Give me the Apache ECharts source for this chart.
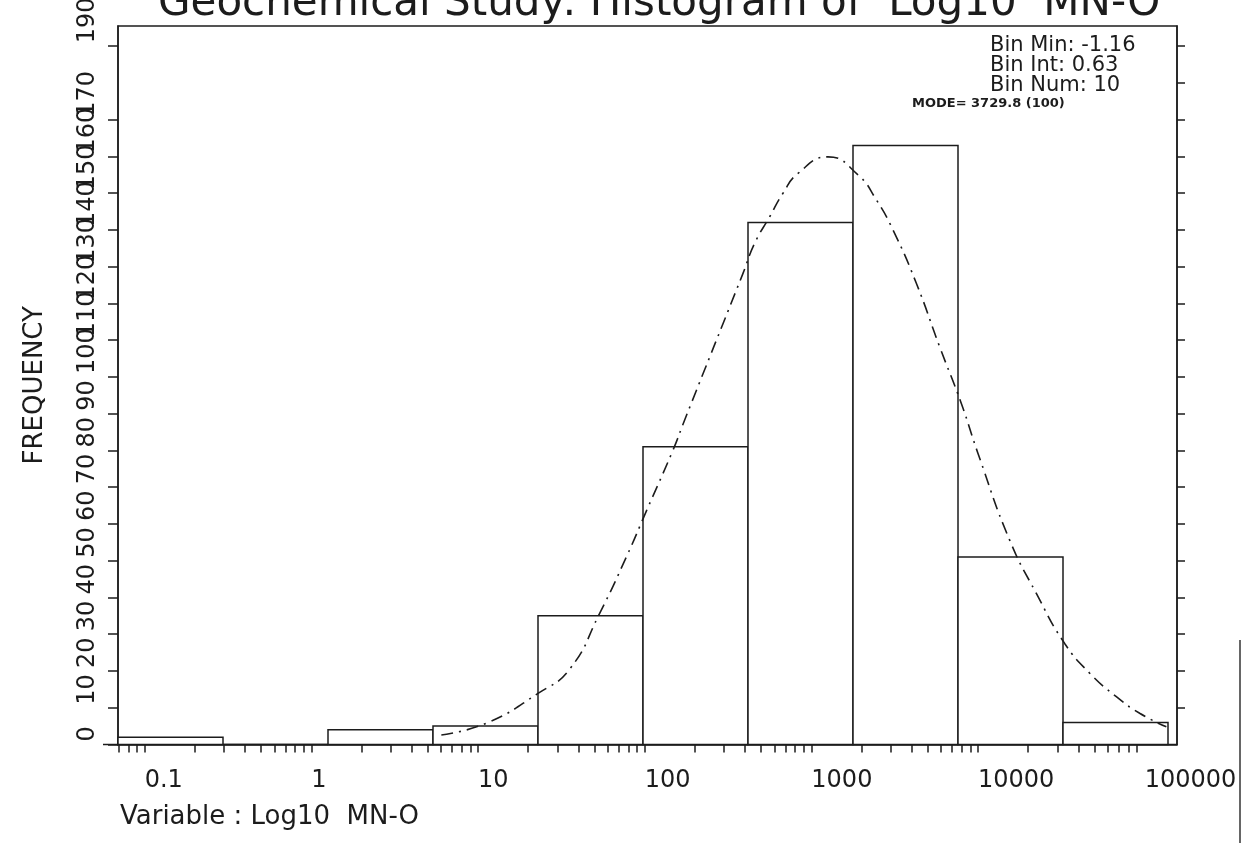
<!DOCTYPE html>
<html><head><meta charset="utf-8">
<script src="https://cdn.jsdelivr.net/npm/echarts@6/dist/echarts.min.js"></script>
<style>html,body{margin:0;padding:0;background:#fff}#c{width:1247px;height:843px}</style>
</head><body><div id="c"></div>
<script>
// ---- data ----
const titleText = 'Geochemical Study: Histogram of  Log10  MN-O';
const xAxisTitle = 'Variable : Log10  MN-O';
const yAxisTitle = 'FREQUENCY';
const infoLines = ['Bin Min: -1.16', 'Bin Int: 0.63', 'Bin Num: 10'];
const modeText = 'MODE= 3729.8 (100)';

// histogram bins (log10 units)
const binEdges = [-1.16, -0.53, 0.10, 0.73, 1.36, 1.99, 2.62, 3.25, 3.88, 4.51, 5.14];
const binCounts = [2, 0, 4, 5, 35, 81, 142, 163, 51, 6];

// fitted curve
const curveLogX = [0.78, 1.05, 1.36, 1.55, 1.73, 1.89, 2.01, 2.17, 2.24, 2.59, 2.66, 2.75, 2.83, 2.92, 3.10, 3.28, 3.39, 3.49, 3.63, 3.77, 3.90, 4.00, 4.19, 4.35, 4.52, 4.67, 4.83, 4.97, 5.13];
const curveFreq = [2.6, 5.8, 13.9, 20.5, 35.7, 51.0, 63.5, 80.1, 88.3, 128.2, 136.4, 143.6, 150.0, 155.4, 159.9, 155.0, 148.2, 140.0, 125.5, 108.2, 92.8, 79.2, 55.6, 41.1, 27.5, 19.4, 13.0, 8.5, 4.8];

// axes
const xMin = -1.16, xMax = 5.194;
const yMin = 0, yMax = 195.5;
const xTickValues = [-1, 0, 1, 2, 3, 4, 5];
const xTickLabels = ['0.1', '1', '10', '100', '1000', '10000', '100000'];
const xMinorMultipliers = [1, 2, 3, 4, 5, 6, 7, 8, 9];
const xDecades = [-2, -1, 0, 1, 2, 3, 4];
const yTickValues = [0, 10, 20, 30, 40, 50, 60, 70, 80, 90, 100, 110, 120, 130, 140, 150, 160, 170, 180, 190];

// ---- build ----
const minorTicks = [];
xDecades.forEach(d => xMinorMultipliers.forEach(m => {
  const v = Math.log10(m) + d;
  if (v >= xMin && v <= xMax) minorTicks.push(v);
}));
const ink = '#1c1c1c';
const font = 'DejaVu Sans';
const histData = binCounts.map((c, i) => [binEdges[i], binEdges[i + 1], c]);
const curveData = curveLogX.map((x, i) => [x, curveFreq[i]]);

const chart = echarts.init(document.getElementById('c'));
chart.setOption({
  animation: false,
  backgroundColor: '#fff',
  title: [
    {text: titleText, left: 158, top: -17, padding: 0,
     textStyle: {fontFamily: font, fontSize: 42, fontWeight: 'normal', color: ink}},
    {text: xAxisTitle, left: 120, top: 804, padding: 0,
     textStyle: {fontFamily: font, fontSize: 26, fontWeight: 'normal', color: ink}},
    {text: infoLines.join('\n'), left: 990, top: 36, padding: 0,
     textStyle: {fontFamily: font, fontSize: 21, lineHeight: 20, fontWeight: 'normal', color: ink}},
    {text: modeText, left: 912, top: 97, padding: 0,
     textStyle: {fontFamily: font, fontSize: 13, fontWeight: 'bold', color: ink}}
  ],
  grid: {left: 118, top: 26, right: 70, bottom: 98.5, show: true, borderColor: ink, borderWidth: 1.5,
         backgroundColor: 'transparent', containLabel: false, outerBoundsMode: 'none'},
  xAxis: {
    type: 'value', min: xMin, max: xMax,
    splitLine: {show: false},
    axisLine: {show: true, onZero: false, lineStyle: {color: ink, width: 1.5}},
    axisTick: {show: true, customValues: minorTicks, length: 8, inside: false, lineStyle: {color: ink, width: 1.5}},
    axisLabel: {show: true, customValues: xTickValues, align: 'left', margin: 24,
      fontFamily: font, fontSize: 24, color: ink,
      formatter: v => { const i = xTickValues.findIndex(t => Math.abs(t - v) < 1e-9); return i >= 0 ? xTickLabels[i] : ''; }}
  },
  yAxis: [
    {type: 'value', min: yMin, max: yMax, position: 'left',
     name: yAxisTitle, nameLocation: 'middle', nameRotate: 90, nameGap: 70,
     nameTextStyle: {fontFamily: font, fontSize: 26, color: ink},
     splitLine: {show: false},
     axisLine: {show: true, onZero: false, lineStyle: {color: ink, width: 1.5}},
     axisTick: {show: true, customValues: yTickValues, length: 10, inside: false, lineStyle: {color: ink, width: 1.5}},
     axisLabel: {show: true, customValues: yTickValues, rotate: 90, align: 'left', verticalAlign: 'bottom',
       showMaxLabel: true, showMinLabel: true,
       margin: 18, fontFamily: font, fontSize: 24, color: ink, padding: [0, 0, 0, 3]}},
    {type: 'value', min: yMin, max: yMax, position: 'right',
     splitLine: {show: false},
     axisLine: {show: true, onZero: false, lineStyle: {color: ink, width: 1.5}},
     axisTick: {show: true, customValues: yTickValues.slice(1), length: 8, inside: false, lineStyle: {color: ink, width: 1.5}},
     axisLabel: {show: false}}
  ],
  series: [
    {type: 'custom', xAxisIndex: 0, yAxisIndex: 0, data: histData, z: 2,
     renderItem: (params, api) => {
       const p0 = api.coord([api.value(0), 0]);
       const p1 = api.coord([api.value(1), api.value(2)]);
       return {type: 'rect',
         shape: {x: p0[0], y: p1[1], width: p1[0] - p0[0], height: p0[1] - p1[1]},
         style: {fill: '#fff', stroke: ink, lineWidth: 1.5}};
     }},
    {type: 'line', data: curveData, smooth: 0.5, showSymbol: false, z: 5,
     lineStyle: {color: ink, width: 1.6, type: [12, 6, 2, 6]}}
  ],
  graphic: [
    {type: 'line', shape: {x1: 103, y1: 744.5, x2: 118, y2: 744.5}, style: {stroke: ink, lineWidth: 1.5}},
    {type: 'line', shape: {x1: 1240, y1: 640, x2: 1240, y2: 843}, style: {stroke: '#333', lineWidth: 1.5}}
  ]
});
</script></body></html>
